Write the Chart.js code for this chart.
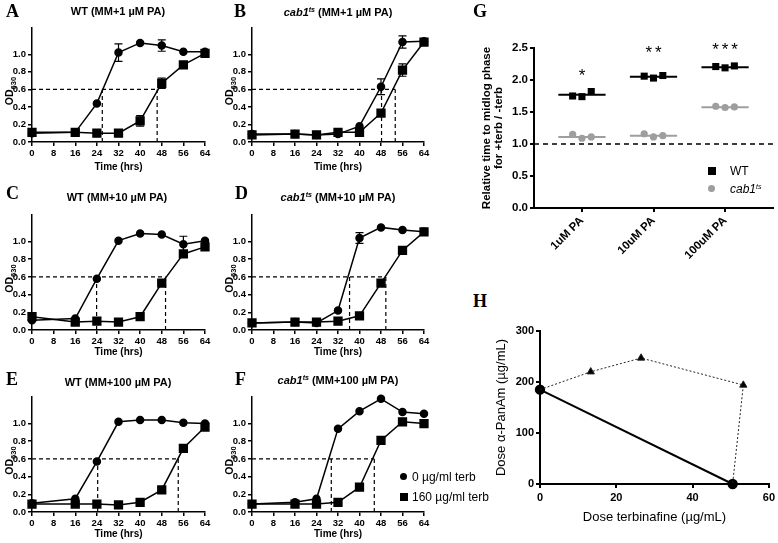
<!DOCTYPE html>
<html>
<head>
<meta charset="utf-8">
<script src="https://cdn.jsdelivr.net/npm/chart.js@4.4.1/dist/chart.umd.min.js"></script>
<style>
  body { margin: 0; background: #fff; }
  #fig { position: relative; width: 778px; height: 543px; overflow: hidden; font-family: "Liberation Sans", Arial, sans-serif; color: #000; }
  canvas { position: absolute; }
  .letter { position: absolute; font-family: "Liberation Serif", serif; font-weight: bold; font-size: 18px; line-height: 18px; }
  .ttl { position: absolute; width: 220px; text-align: center; font-weight: bold; font-size: 11px; line-height: 12px; white-space: nowrap; }
  .ttl sup, .leg sup { font-size: 7px; vertical-align: 4px; line-height: 0; font-style: italic; }
  .leg { position: absolute; font-size: 12px; line-height: 14px; white-space: nowrap; }
  .mk { position: absolute; }
</style>
</head>
<body>
<div id="fig">
  <canvas id="chartA"></canvas>
  <canvas id="chartB"></canvas>
  <canvas id="chartC"></canvas>
  <canvas id="chartD"></canvas>
  <canvas id="chartE"></canvas>
  <canvas id="chartF"></canvas>
  <canvas id="chartG"></canvas>
  <canvas id="chartH"></canvas>

  <div class="letter" style="left:6px;top:2px">A</div>
  <div class="letter" style="left:234px;top:2px">B</div>
  <div class="letter" style="left:6px;top:184px">C</div>
  <div class="letter" style="left:235px;top:184px">D</div>
  <div class="letter" style="left:6px;top:370px">E</div>
  <div class="letter" style="left:235px;top:370px">F</div>
  <div class="letter" style="left:473px;top:2px">G</div>
  <div class="letter" style="left:473px;top:292px">H</div>

  <div class="ttl" style="left:8px;top:5px">WT (MM+1 µM PA)</div>
  <div class="ttl" style="left:228px;top:6px"><i>cab1</i><sup>ts</sup> (MM+1 µM PA)</div>
  <div class="ttl" style="left:7px;top:191px">WT (MM+10 µM PA)</div>
  <div class="ttl" style="left:228px;top:191px"><i>cab1</i><sup>ts</sup> (MM+10 µM PA)</div>
  <div class="ttl" style="left:8px;top:376px">WT (MM+100 µM PA)</div>
  <div class="ttl" style="left:228px;top:374px"><i>cab1</i><sup>ts</sup> (MM+100 µM PA)</div>

  <!-- legend for the growth curves -->
  <div class="mk" style="left:400px;top:473px;width:7px;height:7px;border-radius:50%;background:#000"></div>
  <div class="leg" style="left:412px;top:470px">0 µg/ml terb</div>
  <div class="mk" style="left:400px;top:493px;width:8px;height:8px;background:#000"></div>
  <div class="leg" style="left:412px;top:490px">160 µg/ml terb</div>

  <!-- legend for G -->
  <div class="mk" style="left:708px;top:167px;width:8px;height:8px;background:#000"></div>
  <div class="leg" style="left:730px;top:164px">WT</div>
  <div class="mk" style="left:708px;top:185px;width:7px;height:7px;border-radius:50%;background:#9e9e9e"></div>
  <div class="leg" style="left:730px;top:182px"><i>cab1</i><sup>ts</sup></div>
</div>

<script>
// sampling times (hrs)
const hours = [0, 16, 24, 32, 40, 48, 56, 64];
const midlogOD = 0.6;

// A: WT, MM + 1 uM PA
const wt1NoTerb = [0.10, 0.11, 0.44, 1.02, 1.13, 1.10, 1.03, 1.03];
const wt1NoTerbErr = [0.02, 0.01, 0.01, 0.10, 0.03, 0.065, 0.03, 0.03];
const wt1Terb = [0.11, 0.11, 0.10, 0.10, 0.24, 0.67, 0.88, 1.01];
const wt1TerbErr = [0.03, 0.01, 0.01, 0.01, 0.06, 0.06, 0.05, 0.03];
const wt1Midlog = [26, 46.3];

// B: cab1ts, MM + 1 uM PA
const cab1NoTerb = [0.09, 0.09, 0.08, 0.09, 0.18, 0.63, 1.14, 1.15];
const cab1NoTerbErr = [0.02, 0.01, 0.01, 0.01, 0.01, 0.09, 0.07, 0.03];
const cab1Terb = [0.08, 0.09, 0.08, 0.11, 0.11, 0.33, 0.82, 1.14];
const cab1TerbErr = [0.02, 0.01, 0.01, 0.01, 0.01, 0.05, 0.07, 0.03];
const cab1Midlog = [48.2, 53.3];

// C: WT, MM + 10 uM PA
const wt10NoTerb = [0.11, 0.13, 0.58, 1.01, 1.09, 1.08, 0.97, 1.01];
const wt10NoTerbErr = [0.01, 0.01, 0.01, 0.01, 0.01, 0.01, 0.09, 0.04];
const wt10Terb = [0.15, 0.09, 0.10, 0.09, 0.15, 0.53, 0.86, 0.94];
const wt10TerbErr = [0.01, 0.01, 0.01, 0.01, 0.01, 0.02, 0.02, 0.02];
const wt10Midlog = [23.9, 49.4];

// D: cab1ts, MM + 10 uM PA
const cab10NoTerb = [0.08, 0.09, 0.08, 0.22, 1.04, 1.16, 1.13, 1.11];
const cab10NoTerbErr = [0.01, 0.01, 0.01, 0.01, 0.06, 0.03, 0.01, 0.02];
const cab10Terb = [0.08, 0.09, 0.09, 0.10, 0.16, 0.53, 0.90, 1.11];
const cab10TerbErr = [0.02, 0.01, 0.01, 0.01, 0.01, 0.04, 0.05, 0.02];
const cab10Midlog = [36.3, 49.8];

// E: WT, MM + 100 uM PA
const wt100NoTerb = [0.10, 0.15, 0.57, 1.02, 1.04, 1.04, 1.01, 1.00];
const wt100NoTerbErr = [0.01, 0.01, 0.03, 0.01, 0.01, 0.03, 0.03, 0.02];
const wt100Terb = [0.09, 0.09, 0.09, 0.08, 0.11, 0.25, 0.72, 0.96];
const wt100TerbErr = [0.01, 0.01, 0.01, 0.01, 0.01, 0.03, 0.01, 0.02];
const wt100Midlog = [24.3, 54.1];

// F: cab1ts, MM + 100 uM PA
const cab100NoTerb = [0.09, 0.11, 0.15, 0.94, 1.14, 1.28, 1.13, 1.11];
const cab100NoTerbErr = [0.01, 0.01, 0.01, 0.01, 0.01, 0.01, 0.04, 0.02];
const cab100Terb = [0.09, 0.09, 0.09, 0.11, 0.28, 0.81, 1.02, 1.00];
const cab100TerbErr = [0.01, 0.01, 0.01, 0.01, 0.01, 0.03, 0.01, 0.03];
const cab100Midlog = [29.5, 45.5];

// G: relative time to midlog (+terb / -terb), three replicates each
const gDoses = ['1uM PA', '10uM PA', '100uM PA'];
const wtRatio = [[1.75, 1.74, 1.82], [2.06, 2.03, 2.07], [2.21, 2.19, 2.22]];
const cabRatio = [[1.15, 1.09, 1.11], [1.16, 1.11, 1.13], [1.59, 1.57, 1.58]];
const wtMedian = [1.77, 2.05, 2.20];
const cabMedian = [1.11, 1.13, 1.575];
const gStars = ['*', '**', '***'];
const gStarY = [1.98, 2.34, 2.39];
const noEffect = 1.0;

// H: isobologram
const hTerb = [0, 50.5];
const hPanAm = [185, 0];
const hComboTerb = [13.3, 26.5, 53.3];
const hComboPanAm = [220, 247, 194];

const FONT = '"Liberation Sans", Arial, sans-serif';
Chart.defaults.font.family = FONT;
Chart.defaults.color = '#000';
Chart.defaults.animation = false;

function pts(xs, ys) {
    return xs.map((x, i) => ({x: x, y: ys[i]}));
}

function place(id, box) {
    const c = document.getElementById(id);
    c.width = box.w;
    c.height = box.h;
    c.style.left = box.x + 'px';
    c.style.top = box.y + 'px';
    return c;
}

// vertical SEM bars, skipped when hidden by the marker
const errorBars = {
    id: 'errorBars',
    afterDatasetsDraw(chart) {
        const ctx = chart.ctx;
        const ys = chart.scales.y;
        chart.data.datasets.forEach((ds, di) => {
            if (!ds.errs) return;
            const meta = chart.getDatasetMeta(di);
            ctx.save();
            ctx.strokeStyle = '#000';
            ctx.lineWidth = 1.2;
            meta.data.forEach((el, i) => {
                const v = ds.data[i].y;
                const top = ys.getPixelForValue(v + ds.errs[i]);
                const bot = ys.getPixelForValue(v - ds.errs[i]);
                if (el.y - top < 4.5) return;
                ctx.beginPath();
                ctx.moveTo(el.x, top); ctx.lineTo(el.x, bot);
                ctx.moveTo(el.x - 4, top); ctx.lineTo(el.x + 4, top);
                ctx.moveTo(el.x - 4, bot); ctx.lineTo(el.x + 4, bot);
                ctx.stroke();
            });
            ctx.restore();
        });
    }
};

// rotated OD630 label with subscript
const odLabel = {
    id: 'odLabel',
    afterDraw(chart) {
        const a = chart.chartArea;
        const ctx = chart.ctx;
        ctx.save();
        ctx.translate(a.left - 21.5, (a.top + a.bottom) / 2 + 6);
        ctx.rotate(-Math.PI / 2);
        ctx.fillStyle = '#000';
        ctx.textBaseline = 'middle';
        ctx.font = 'bold 10.5px ' + FONT;
        const w1 = ctx.measureText('OD').width;
        ctx.font = 'bold 7.5px ' + FONT;
        const w2 = ctx.measureText('630').width;
        const start = -(w1 + w2) / 2;
        ctx.font = 'bold 10.5px ' + FONT;
        ctx.fillText('OD', start, 0);
        ctx.font = 'bold 7.5px ' + FONT;
        ctx.fillText('630', start + w1, 3);
        ctx.restore();
    }
};

function axisStyle(width) {
    return {
        grid: {drawOnChartArea: false, color: '#000', lineWidth: width, tickLength: 4},
        border: {color: '#000', width: width}
    };
}

function growthChart(id, box, area, noTerb, noTerbErr, terb, terbErr, cut) {
    const canvas = place(id, box);
    const yW = area.L - box.x;
    const xH = box.y + box.h - area.B;
    const guide = {borderColor: '#000', borderWidth: 1.2, borderDash: [4, 3], pointRadius: 0, showLine: true, fill: false};
    const series = {showLine: true, borderColor: '#000', backgroundColor: '#000', borderWidth: 1.5, clip: false};
    const tickFont = {family: FONT, weight: 'bold', size: 9.5};

    new Chart(canvas, {
        type: 'scatter',
        data: {
            datasets: [
                {...guide, data: [{x: 0, y: midlogOD}, {x: cut[1], y: midlogOD}]},
                {...guide, data: [{x: cut[0], y: 0}, {x: cut[0], y: midlogOD}]},
                {...guide, data: [{x: cut[1], y: 0}, {x: cut[1], y: midlogOD}]},
                {...series, label: '160 µg/ml terb', data: pts(hours, terb), errs: terbErr, pointStyle: 'rect', pointRadius: 5.5},
                {...series, label: '0 µg/ml terb', data: pts(hours, noTerb), errs: noTerbErr, pointStyle: 'circle', pointRadius: 3.5}
            ]
        },
        options: {
            responsive: false,
            layout: {padding: {left: 0, bottom: 0, top: area.T - box.y, right: box.x + box.w - area.R}},
            plugins: {legend: {display: false}, tooltip: {enabled: false}},
            scales: {
                x: {
                    type: 'linear', min: 0, max: 64,
                    afterFit: s => { s.height = xH; },
                    ticks: {stepSize: 8, font: tickFont, padding: 2, maxRotation: 0, autoSkip: false},
                    title: {display: true, text: 'Time (hrs)', font: {family: FONT, weight: 'bold', size: 10}, padding: 0},
                    ...axisStyle(1.5)
                },
                y: {
                    min: 0, max: 1.3,
                    afterFit: s => { s.width = yW; },
                    afterBuildTicks: s => { s.ticks = s.ticks.filter(t => t.value < 1.25); },
                    ticks: {stepSize: 0.2, font: tickFont, padding: 2, callback: v => v.toFixed(1)},
                    ...axisStyle(1.5)
                }
            }
        },
        plugins: [errorBars, odLabel]
    });
}

growthChart('chartA', {x: 0, y: 0, w: 220, h: 173}, {L: 32, R: 205, T: 28, B: 142},
    wt1NoTerb, wt1NoTerbErr, wt1Terb, wt1TerbErr, wt1Midlog);
growthChart('chartB', {x: 220, y: 0, w: 245, h: 173}, {L: 252, R: 424, T: 28, B: 142},
    cab1NoTerb, cab1NoTerbErr, cab1Terb, cab1TerbErr, cab1Midlog);
growthChart('chartC', {x: 0, y: 175, w: 220, h: 183}, {L: 32, R: 205, T: 215, B: 330},
    wt10NoTerb, wt10NoTerbErr, wt10Terb, wt10TerbErr, wt10Midlog);
growthChart('chartD', {x: 220, y: 175, w: 245, h: 183}, {L: 252, R: 424, T: 215, B: 330},
    cab10NoTerb, cab10NoTerbErr, cab10Terb, cab10TerbErr, cab10Midlog);
growthChart('chartE', {x: 0, y: 360, w: 220, h: 180}, {L: 32, R: 205, T: 397, B: 512},
    wt100NoTerb, wt100NoTerbErr, wt100Terb, wt100TerbErr, wt100Midlog);
growthChart('chartF', {x: 220, y: 360, w: 245, h: 180}, {L: 252, R: 424, T: 397, B: 512},
    cab100NoTerb, cab100NoTerbErr, cab100Terb, cab100TerbErr, cab100Midlog);

// ---- G ----
const gBox = {x: 481, y: 30, w: 297, h: 240};
const gArea = {L: 534, R: 776, T: 48, B: 208};
const gRange = [0.33, 3.67];
const jitter = [-0.13, 0, 0.13];
const halfBar = 0.33;

const starMarks = {
    id: 'starMarks',
    afterDatasetsDraw(chart) {
        const {ctx, scales: {x, y}} = chart;
        ctx.save();
        ctx.font = '17px ' + FONT;
        ctx.letterSpacing = '3px';
        ctx.textAlign = 'center';
        ctx.fillStyle = '#000';
        gStars.forEach((s, i) => ctx.fillText(s, x.getPixelForValue(i + 1) + 1.5, y.getPixelForValue(gStarY[i])));
        ctx.restore();
    }
};

const gSets = [
    {data: [{x: gRange[0], y: noEffect}, {x: gRange[1], y: noEffect}], showLine: true, borderColor: '#000', borderWidth: 1.5, borderDash: [5, 4], pointRadius: 0}
];
gDoses.forEach((d, i) => {
    gSets.push({data: [{x: i + 1 - halfBar, y: cabMedian[i]}, {x: i + 1 + halfBar, y: cabMedian[i]}], showLine: true, borderColor: '#9e9e9e', borderWidth: 2, pointRadius: 0});
    gSets.push({data: [{x: i + 1 - halfBar, y: wtMedian[i]}, {x: i + 1 + halfBar, y: wtMedian[i]}], showLine: true, borderColor: '#000', borderWidth: 2, pointRadius: 0});
});
gSets.push({label: 'cab1ts', data: cabRatio.flatMap((r, i) => r.map((v, k) => ({x: i + 1 + jitter[k], y: v}))),
    pointStyle: 'circle', pointRadius: 3.6, backgroundColor: '#9e9e9e', borderColor: '#9e9e9e', borderWidth: 0});
gSets.push({label: 'WT', data: wtRatio.flatMap((r, i) => r.map((v, k) => ({x: i + 1 + jitter[k], y: v}))),
    pointStyle: 'rect', pointRadius: 5, backgroundColor: '#000', borderColor: '#000', borderWidth: 0});

new Chart(place('chartG', gBox), {
    type: 'scatter',
    data: {datasets: gSets},
    options: {
        responsive: false,
        layout: {padding: {left: 0, bottom: 0, top: gArea.T - gBox.y, right: gBox.x + gBox.w - gArea.R}},
        plugins: {legend: {display: false}, tooltip: {enabled: false}},
        scales: {
            x: {
                type: 'linear', min: gRange[0], max: gRange[1],
                afterFit: s => { s.height = gBox.y + gBox.h - gArea.B; },
                afterBuildTicks: s => { s.ticks = gDoses.map((d, i) => ({value: i + 1})); },
                ticks: {font: {family: FONT, weight: 'bold', size: 11.5}, minRotation: 45, maxRotation: 45, padding: 2,
                    callback: v => gDoses[Math.round(v) - 1]},
                ...axisStyle(2)
            },
            y: {
                min: 0, max: 2.5,
                afterFit: s => { s.width = gArea.L - gBox.x; },
                ticks: {stepSize: 0.5, font: {family: FONT, weight: 'bold', size: 11.5}, padding: 2, callback: v => v.toFixed(1)},
                title: {display: true, text: ['Relative time to midlog phase', 'for +terb / -terb'],
                    font: {family: FONT, weight: 'bold', size: 11.5, lineHeight: 1.05}, padding: 0},
                ...axisStyle(2)
            }
        }
    },
    plugins: [starMarks]
});

// ---- H ----
const hBox = {x: 494, y: 315, w: 284, h: 210};
const hArea = {L: 540, R: 770, T: 331, B: 484};
const comboPath = [{x: hTerb[0], y: hPanAm[0]}].concat(pts(hComboTerb, hComboPanAm), [{x: hTerb[1], y: hPanAm[1]}]);

new Chart(place('chartH', hBox), {
    type: 'scatter',
    data: {
        datasets: [
            {data: comboPath, showLine: true, borderColor: '#222', borderWidth: 1, borderDash: [2, 2],
                pointStyle: 'triangle', pointRadius: comboPath.map((p, i) => (i === 0 || i === comboPath.length - 1) ? 0 : 4.2),
                backgroundColor: '#000', clip: false},
            {data: pts(hTerb, hPanAm), showLine: true, borderColor: '#000', borderWidth: 2,
                pointStyle: 'circle', pointRadius: 4.2, backgroundColor: '#000', clip: false}
        ]
    },
    options: {
        responsive: false,
        layout: {padding: {left: 0, bottom: 0, top: hArea.T - hBox.y, right: hBox.x + hBox.w - hArea.R}},
        plugins: {legend: {display: false}, tooltip: {enabled: false}},
        scales: {
            x: {
                type: 'linear', min: 0, max: 60,
                afterFit: s => { s.height = hBox.y + hBox.h - hArea.B; },
                ticks: {stepSize: 20, font: {family: FONT, weight: 'bold', size: 11}, padding: 3, maxRotation: 0},
                title: {display: true, text: 'Dose terbinafine (µg/mL)', font: {family: FONT, size: 13}, padding: 0},
                ...axisStyle(2)
            },
            y: {
                min: 0, max: 300,
                afterFit: s => { s.width = hArea.L - hBox.x; },
                ticks: {stepSize: 100, font: {family: FONT, weight: 'bold', size: 11}, padding: 2},
                title: {display: true, text: 'Dose α-PanAm (µg/mL)', font: {family: FONT, size: 13}, padding: 0},
                ...axisStyle(2)
            }
        }
    }
});
</script>
</body>
</html>
